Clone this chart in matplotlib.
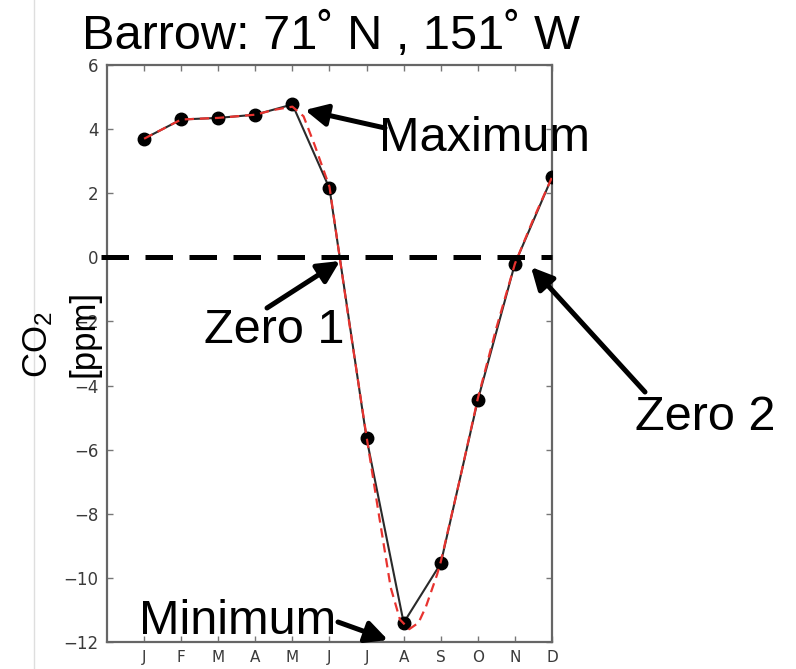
import matplotlib
matplotlib.use("Agg")
import matplotlib.pyplot as plt
from matplotlib.lines import Line2D

# Monthly mean CO2 anomaly at Barrow (ppm)
months = ["J", "F", "M", "A", "M", "J", "J", "A", "S", "O", "N", "D"]
month_pos = [1, 2, 3, 4, 5, 6, 7, 8, 9, 10, 11, 12]
co2_anom = [3.7, 4.3, 4.35, 4.45, 4.77, 2.15, -5.65, -11.4, -9.55, -4.45, -0.2, 2.5]

# Smoothed seasonal cycle (red dashed curve)
fit_x = [1, 2, 3, 4, 4.5, 5, 5.3, 5.6, 6, 6.5, 7, 7.3, 7.65, 7.9, 8.15, 8.4,
         8.6, 8.9, 9, 9.5, 10, 10.5, 11, 11.5, 12]
fit_y = [3.7, 4.3, 4.35, 4.45, 4.6, 4.7, 4.4, 3.5, 2.2, -1.8, -5.6, -7.8,
         -10.3, -11.3, -11.6, -11.4, -10.9, -9.9, -9.5, -7.0, -4.4, -2.2,
         -0.2, 1.2, 2.5]

yticks = [-12, -10, -8, -6, -4, -2, 0, 2, 4, 6]

W, H = 796, 669
plt.rcParams["mathtext.fontset"] = "custom"
plt.rcParams["mathtext.rm"] = "Liberation Sans"
plt.rcParams["mathtext.default"] = "regular"

fig = plt.figure(figsize=(W / 100, H / 100), dpi=100)


def fx(px):
    return px / W


def fy(py):
    return 1 - py / H


ax = fig.add_axes([fx(107), fy(642), (552 - 107) / W, (642 - 65) / H])

ax.plot(month_pos, co2_anom, color="#2a2a2a", lw=1.5, marker="o",
        ms=9, mfc="black", mec="black", zorder=3)
ax.plot(fit_x, fit_y, color="#e8332f", lw=1.6, dashes=(4.2, 2.6), zorder=4)
ax.plot([-0.15, 12], [0, 0], color="black", lw=3.6, dashes=(5.5, 3.3),
        clip_on=False, zorder=5)

ax.set_xlim(0, 12)
ax.set_ylim(-12, 6)
ax.set_xticks(month_pos)
ax.set_xticklabels(months, fontsize=11)
ax.set_yticks(yticks)
ax.set_yticklabels([str(v).replace("-", "\u2212") for v in yticks], fontsize=12)
ax.tick_params(direction="in", length=4, width=1, color="#777",
               labelcolor="#3a3a3a", top=True, right=True)
ax.tick_params(axis="y", pad=6)
ax.tick_params(axis="x", pad=6)
for s in ax.spines.values():
    s.set_color("#666")
    s.set_linewidth(1.6)

font = "Liberation Sans"
fig.text(fx(331), fy(49), "Barrow: 71\u02da N , 151\u02da W", fontsize=35,
         family=font, ha="center", va="baseline")

fig.text(fx(38), fy(345), r"CO$_2$", fontsize=25, family=font, rotation=90,
         ha="center", va="center")
fig.text(fx(84), fy(333), "[ppm]", fontsize=25, family=font, rotation=90,
         ha="center", va="center")

labels = [("Maximum", 379, 151), ("Zero 1", 204, 343),
          ("Zero 2", 635, 430), ("Minimum", 139, 634)]
for txt, px, py in labels:
    fig.text(fx(px), fy(py), txt, fontsize=35, family=font,
             ha="left", va="baseline")

arrows = [((385, 128), (305, 110)), ((267, 308), (340, 261)),
          ((645, 392), (531, 267)), ((338, 622), (388, 640))]
for (tx, ty), (hx, hy) in arrows:
    ax.annotate("", xy=(fx(hx), fy(hy)), xycoords="figure fraction",
                xytext=(fx(tx), fy(ty)), textcoords="figure fraction",
                arrowprops=dict(arrowstyle="-|>,head_length=0.6,head_width=0.3",
                                lw=3.6, color="black", mutation_scale=22,
                                shrinkA=0, shrinkB=0),
                annotation_clip=False, zorder=6)

fig.add_artist(Line2D([fx(34), fx(34)], [0, 1], color="#dedede", lw=1,
                      transform=fig.transFigure))

fig.savefig("out.png", dpi=100)
